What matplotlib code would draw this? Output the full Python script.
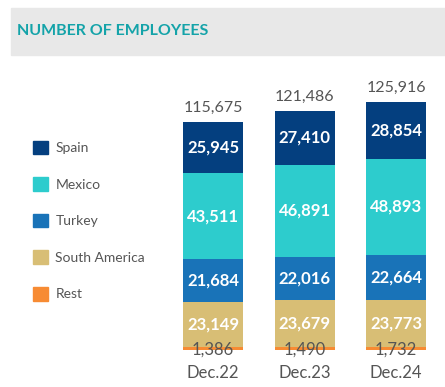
import matplotlib
matplotlib.use('Agg')
import matplotlib.pyplot as plt
from matplotlib.patches import Rectangle, Patch

plt.rcParams['font.family'] = ['Lato', 'DejaVu Sans']

periods = ['Dec.22', 'Dec.23', 'Dec.24']
regions = ['Rest', 'South America', 'Turkey', 'Mexico', 'Spain']
values = {
    'Rest': [1386, 1490, 1732],
    'South America': [23149, 23679, 23773],
    'Turkey': [21684, 22016, 22664],
    'Mexico': [43511, 46891, 48893],
    'Spain': [25945, 27410, 28854],
}
totals = [115675, 121486, 125916]
colors = {
    'Spain': '#043f7f',
    'Mexico': '#2dcccd',
    'Turkey': '#1973b8',
    'South America': '#d8be75',
    'Rest': '#f78b33',
}

W, H = 445, 387
fig = plt.figure(figsize=(W / 100, H / 100), dpi=100)

# header band
fig.add_artist(Rectangle((11 / W, 1 - 55 / H), 1 - 11 / W, 47 / H,
                         transform=fig.transFigure, color='#e8e8e8', zorder=0))
fig.text(17 / W, 1 - 31 / H, 'NUMBER OF EMPLOYEES', color='#14a3a9',
         fontsize=11.5, fontweight='bold', va='center', ha='left')

ax = fig.add_axes([165 / W, 37 / H, 275 / W, 290 / H])
ax.set_xlim(-0.525, 2.48)
ax.set_ylim(0, 147200)

x = range(len(periods))
bottom = [0, 0, 0]
for r in regions:
    ax.bar(x, values[r], 0.656, bottom=bottom, color=colors[r], zorder=2)
    for i, v in enumerate(values[r]):
        if r == 'Rest':
            ax.text(i, 0, f'{v:,}', ha='center', va='center', fontsize=12,
                    color='#555555', zorder=3)
        else:
            ax.text(i, bottom[i] + v / 2, f'{v:,}', ha='center', va='center',
                    fontsize=12, color='white', fontweight='bold', zorder=3)
    bottom = [b + v for b, v in zip(bottom, values[r])]

for i, t in enumerate(totals):
    ax.annotate(f'{t:,}', (i, bottom[i]), xytext=(0, 5), textcoords='offset points',
                ha='center', va='bottom', fontsize=11.5, color='#555555')

ax.set_xticks(list(x))
ax.set_xticklabels(periods, fontsize=12, color='#555555')
ax.tick_params(axis='x', length=0, pad=11)
ax.set_yticks([])
for s in ax.spines.values():
    s.set_visible(False)

handles = [Patch(color=colors[r], label=r) for r in reversed(regions)]
fig.legend(handles=handles, loc='upper left', bbox_to_anchor=(20 / W, 1 - 128 / H),
           frameon=False, fontsize=10, handlelength=1.15, handleheight=1.15,
           handletextpad=0.5, labelspacing=1.64, labelcolor='#555555')

plt.savefig('out.png', dpi=100)
